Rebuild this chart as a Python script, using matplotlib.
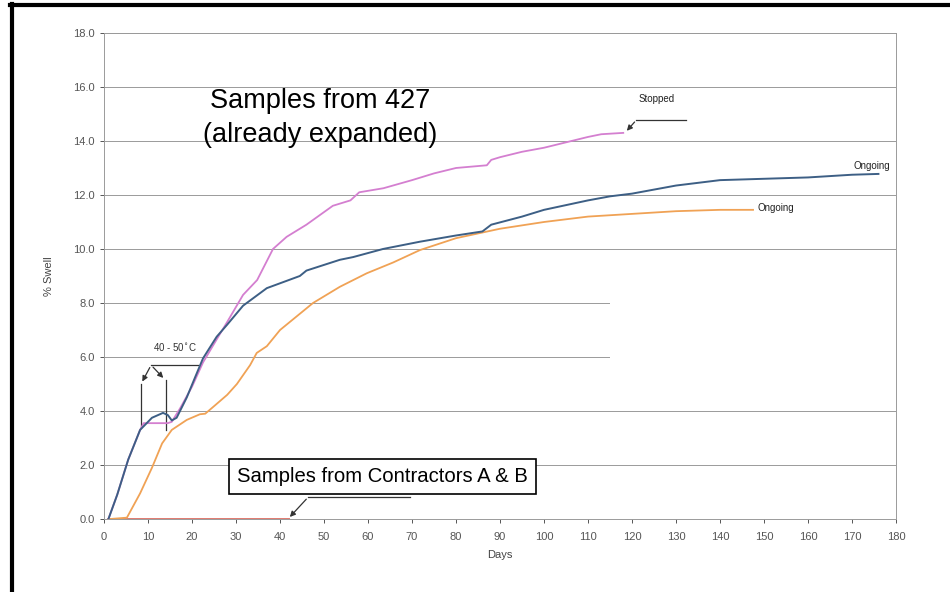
import matplotlib
matplotlib.use("Agg")
import matplotlib.pyplot as plt
from matplotlib.lines import Line2D
from matplotlib.patches import Rectangle

plt.rcParams['font.family'] = ['Liberation Sans', 'DejaVu Sans']

# --- data ---
stopped_days = [1, 3, 5.5, 8.2, 9, 11, 14.5, 15.4, 17.3, 20, 22.5, 25.6, 28, 31.6, 34.8,
                38.4, 41.5, 46, 52, 56, 58, 63.5, 70, 75, 80, 87, 88, 90, 95, 100, 105,
                110, 113, 118]
stopped_swell = [0, 0.9, 2.2, 3.3, 3.55, 3.55, 3.55, 3.6, 4.1, 4.9, 5.8, 6.65, 7.3, 8.3, 8.85,
                 10.0, 10.45, 10.9, 11.6, 11.8, 12.1, 12.25, 12.55, 12.8, 13.0, 13.1, 13.3,
                 13.4, 13.6, 13.75, 13.95, 14.15, 14.25, 14.3]

ongoing1_days = [1, 3, 5.5, 8.2, 10.9, 13.4, 14.5, 15.4, 16.5, 18.8, 20.7, 22.5, 25.6, 28,
                 31.6, 37, 44.5, 46, 53.6, 56.6, 63.4, 71.8, 80, 86, 88, 95, 100, 110, 115,
                 120, 125, 130, 140, 150, 160, 170, 176]
ongoing1_swell = [0, 0.9, 2.2, 3.3, 3.75, 3.93, 3.85, 3.65, 3.75, 4.5, 5.25, 5.95, 6.75, 7.2,
                  7.9, 8.55, 9.0, 9.2, 9.6, 9.7, 10.0, 10.27, 10.5, 10.65, 10.9, 11.2, 11.45,
                  11.8, 11.95, 12.05, 12.2, 12.35, 12.55, 12.6, 12.65, 12.75, 12.78]

ongoing2_days = [1.4, 5.2, 8.2, 10.9, 13.2, 15.4, 18.8, 21.8, 23, 24.8, 28, 30.2, 33.2, 34.7,
                 37, 40, 47.5, 53.6, 59.7, 65.7, 71.8, 80, 90, 100, 110, 120, 130, 140, 147.5]
ongoing2_swell = [0, 0.05, 0.95, 1.9, 2.8, 3.3, 3.67, 3.88, 3.9, 4.15, 4.6, 5.0, 5.7, 6.15,
                  6.4, 7.0, 8.0, 8.6, 9.1, 9.5, 9.96, 10.4, 10.75, 11.0, 11.2, 11.3, 11.4,
                  11.45, 11.45]

contractor_days = [1, 42]
contractor_swell = [0, 0]

x_ticks = list(range(0, 181, 10))
y_ticks = [0, 2, 4, 6, 8, 10, 12, 14, 16, 18]

fig = plt.figure(figsize=(9.5, 5.92), dpi=100)
ax = fig.add_axes([0.1095, 0.1233, 0.8337, 0.821])

grid_c = '#9a9a9a'
for y in y_ticks[1:]:
    ax.axhline(y, color=grid_c, lw=0.7, zorder=1)
# scan patch where two gridlines fade out
ax.add_patch(Rectangle((115, 5.2), 66, 4.3, facecolor='white', edgecolor='none', zorder=1.5))

ax.plot(contractor_days, contractor_swell, color='#e07a70', lw=1.4, zorder=3)
ax.plot(ongoing2_days, ongoing2_swell, color='#f0a255', lw=1.3, zorder=3)
ax.plot(stopped_days, stopped_swell, color='#d47fd0', lw=1.3, zorder=3)
ax.plot(ongoing1_days, ongoing1_swell, color='#3d5f85', lw=1.4, zorder=4)

ax.set_xlim(0, 180)
ax.set_ylim(0, 18)
ax.set_xticks(x_ticks)
ax.set_yticks(y_ticks)
ax.set_yticklabels([f"{v:.1f}" for v in y_ticks])
ax.tick_params(colors='#555555', labelsize=8, length=3, width=0.7)
ax.tick_params(axis='x', pad=6)
for side in ['left', 'bottom', 'right', 'top']:
    ax.spines[side].set_color(grid_c)
    ax.spines[side].set_linewidth(0.7)
ax.set_xlabel('Days', fontsize=8, color='#444444', labelpad=6)
ax.set_ylabel('% Swell', fontsize=8, color='#444444', labelpad=14)

# annotations
ax.text(49, 14.85, 'Samples from 427\n(already expanded)', fontsize=19.5, ha='center',
        va='center', linespacing=1.4, zorder=5)

ax.text(125.7, 15.56, 'Stopped', fontsize=7, ha='center', va='center', color='#222222')
ax.plot([121, 132.3], [14.78, 14.78], color='#333333', lw=0.9)
ax.annotate('', xy=(118.4, 14.3), xytext=(121, 14.78),
            arrowprops=dict(arrowstyle='-|>', color='#333333', lw=0.9, mutation_scale=8))

ax.text(174.5, 13.07, 'Ongoing', fontsize=7, ha='center', va='center', color='#222222')
ax.text(148.6, 11.5, 'Ongoing', fontsize=7, ha='left', va='center', color='#222222')

ax.text(16.1, 6.37, '40 - 50$^{\\circ}$C', fontsize=7, ha='center', va='center', color='#333333')
ax.plot([10.7, 21.4], [5.7, 5.7], color='#333333', lw=0.9)
for tip in [(8.4, 5.0), (13.9, 5.15)]:
    ax.annotate('', xy=tip, xytext=(10.7, 5.7),
                arrowprops=dict(arrowstyle='-|>', color='#333333', lw=0.9, mutation_scale=8))
ax.plot([8.4, 8.4], [5.0, 3.4], color='#333333', lw=0.9)
ax.plot([14.0, 14.0], [5.15, 3.3], color='#333333', lw=0.9)

ax.text(63.2, 1.56, 'Samples from Contractors A & B', fontsize=14.6, ha='center', va='center',
        bbox=dict(boxstyle='square,pad=0.4', facecolor='white', edgecolor='black', lw=1.2),
        zorder=6)
ax.plot([46.4, 69.5], [0.81, 0.81], color='#333333', lw=0.9)
ax.annotate('', xy=(41.8, 0.0), xytext=(46.4, 0.81),
            arrowprops=dict(arrowstyle='-|>', color='#333333', lw=0.9, mutation_scale=8))

# black border of the scanned page (top and left)
fig.add_artist(Line2D([0.0105, 1.0], [0.992, 0.992], transform=fig.transFigure,
                      color='black', lw=3))
fig.add_artist(Line2D([0.0126, 0.0126], [0.0, 0.994], transform=fig.transFigure,
                      color='black', lw=3))

fig.savefig('out.png', dpi=100)
